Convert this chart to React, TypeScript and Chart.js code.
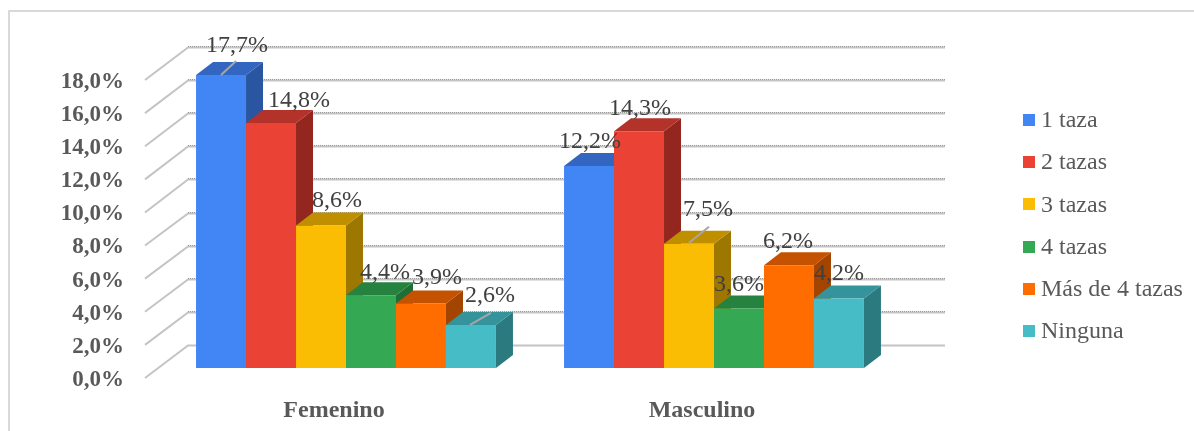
import React, { useEffect, useRef } from 'react';
import { Chart, registerables } from 'chart.js';

Chart.register(...registerables);

// ---------- data ----------
const categories = ['Femenino', 'Masculino'];
const seriesNames = ['1 taza', '2 tazas', '3 tazas', '4 tazas', 'Más de 4 tazas', 'Ninguna'];
const unaTaza = [17.7, 12.2];
const dosTazas = [14.8, 14.3];
const tresTazas = [8.6, 7.5];
const cuatroTazas = [4.4, 3.6];
const masDeCuatro = [3.9, 6.2];
const ninguna = [2.6, 4.2];
const seriesValues = [unaTaza, dosTazas, tresTazas, cuatroTazas, masDeCuatro, ninguna];
const yTickMin = 0;
const yTickMax = 18;
const yTickStep = 2;

// ---------- styles ----------
const FONT = "'Liberation Serif', 'Times New Roman', serif";
const frontColors = ['#4285F4', '#EA4335', '#FBBC04', '#34A853', '#FF6D01', '#46BDC6'];
const topColors = ['#3366C0', '#B3322A', '#BF8F00', '#25823F', '#C55200', '#34939B'];
const sideColors = ['#2A55A0', '#93271F', '#9E7700', '#1E6E35', '#A34500', '#2A7A80'];

// 3D geometry (pixels)
const BAR_DX = 17;
const BAR_DY = 13;
const BACK_DX = 26;
const BACK_DY = 23;
const FRONT_DX = 17;
const FRONT_DY = 10;
const WALL_EXTRA = 47;

// label nudges [series][category] (dx, dy) relative to default placement
const labelNudges = [
  [[16, -5], [1, 0]],
  [[28, 2], [1, 1]],
  [[16, -1], [19, -10]],
  [[14, 2], [0, 0]],
  [[16, -2], [-1, 0]],
  [[19, -5], [0, -1]],
];
const leaderLines = [
  [[0, 0, 15, -14], null],
  [null, null],
  [null, [0, -1, 20, -17]],
  [null, null],
  [null, null],
  [[-1, 0, 20, -12], null],
];

const fmt = (v: number) => v.toFixed(1).replace('.', ',') + '%';

const threeDPlugin = {
  id: 'threeD',
  beforeDatasetsDraw(chart: any) {
    const { ctx, chartArea: ca, scales } = chart;
    const y = scales.y;
    ctx.save();
    // walls: side diagonals + back gridlines
    for (let v = yTickMin; v <= yTickMax + 1e-9; v += yTickStep) {
      const py = y.getPixelForValue(v);
      const yb = Math.round(py - BACK_DY) + 0.5;
      ctx.lineWidth = 2;
      ctx.strokeStyle = '#c4c4c4';
      ctx.setLineDash([]);
      ctx.beginPath();
      ctx.moveTo(ca.left - FRONT_DX, py + FRONT_DY);
      ctx.lineTo(ca.left + BACK_DX, yb);
      ctx.lineTo(ca.right + WALL_EXTRA, yb);
      ctx.stroke();
      if (v > yTickMin) {
        ctx.lineWidth = 1;
        ctx.strokeStyle = '#9a9a9a';
        ctx.setLineDash([1, 1]);
        ctx.beginPath();
        ctx.moveTo(ca.left + BACK_DX, yb - 1);
        ctx.lineTo(ca.right + WALL_EXTRA, yb - 1);
        ctx.stroke();
        ctx.setLineDash([]);
      }
    }
    // side + top faces, left to right
    const n = chart.data.labels.length;
    for (let i = 0; i < n; i++) {
      chart.data.datasets.forEach((_ds: any, d: number) => {
        const el = chart.getDatasetMeta(d).data[i];
        if (!el) return;
        const left = el.x - el.width / 2;
        const right = el.x + el.width / 2;
        const top = el.y;
        const base = el.base;
        ctx.fillStyle = sideColors[d];
        ctx.beginPath();
        ctx.moveTo(right, top);
        ctx.lineTo(right + BAR_DX, top - BAR_DY);
        ctx.lineTo(right + BAR_DX, base - BAR_DY);
        ctx.lineTo(right, base);
        ctx.closePath();
        ctx.fill();
        ctx.fillStyle = topColors[d];
        ctx.beginPath();
        ctx.moveTo(left, top);
        ctx.lineTo(left + BAR_DX, top - BAR_DY);
        ctx.lineTo(right + BAR_DX, top - BAR_DY);
        ctx.lineTo(right, top);
        ctx.closePath();
        ctx.fill();
      });
    }
    ctx.restore();
  },
  afterDatasetsDraw(chart: any) {
    const { ctx } = chart;
    ctx.save();
    ctx.font = `24px ${FONT}`;
    ctx.fillStyle = '#404040';
    ctx.textAlign = 'center';
    ctx.textBaseline = 'middle';
    chart.data.datasets.forEach((ds: any, d: number) => {
      const meta = chart.getDatasetMeta(d);
      meta.data.forEach((el: any, i: number) => {
        const nudge = labelNudges[d][i];
        const ll = leaderLines[d][i];
        if (ll) {
          ctx.strokeStyle = '#a6a6a6';
          ctx.lineWidth = 2;
          ctx.beginPath();
          ctx.moveTo(el.x + ll[0], el.y + ll[1]);
          ctx.lineTo(el.x + ll[2], el.y + ll[3]);
          ctx.stroke();
        }
        ctx.fillText(fmt(ds.data[i]), el.x + nudge[0], el.y - 24 + nudge[1]);
      });
    });
    ctx.restore();
  },
  afterDraw(chart: any) {
    const { ctx, chartArea: ca } = chart;
    ctx.save();
    // legend
    const x0 = ca.right + 125;
    const y0 = ca.top + 50;
    const step = 42.2;
    ctx.font = `24px ${FONT}`;
    ctx.textBaseline = 'middle';
    ctx.textAlign = 'left';
    chart.data.datasets.forEach((ds: any, d: number) => {
      const cy = y0 + d * step;
      ctx.fillStyle = frontColors[d];
      ctx.fillRect(x0, Math.round(cy - 6), 12, 12);
      ctx.fillStyle = '#595959';
      ctx.fillText(ds.label, x0 + 18, cy + 1);
    });
    // outer border (top and left visible)
    ctx.strokeStyle = '#d9d9d9';
    ctx.lineWidth = 2;
    ctx.beginPath();
    ctx.moveTo(9, chart.height);
    ctx.lineTo(9, 11);
    ctx.lineTo(chart.width, 11);
    ctx.stroke();
    ctx.restore();
  },
};

export default function App() {
  const ref = useRef<HTMLCanvasElement | null>(null);
  useEffect(() => {
    document.body.style.margin = '0';
    const canvas = ref.current;
    if (!canvas) return;
    const chart = new Chart(canvas, {
      type: 'bar',
      data: {
        labels: categories,
        datasets: seriesNames.map((name, d) => ({
          label: name,
          data: seriesValues[d],
          backgroundColor: frontColors[d],
          borderWidth: 0,
          categoryPercentage: 0.815,
          barPercentage: 1,
        })),
      },
      options: {
        responsive: false,
        animation: false,
        layout: { padding: { top: 70, right: 296, left: 0, bottom: 0 } },
        plugins: {
          legend: { display: false },
          tooltip: { enabled: false },
        },
        scales: {
          x: {
            grid: { display: false },
            border: { display: false },
            ticks: {
              font: { family: FONT, size: 24, weight: 'bold' },
              color: '#595959',
              padding: 20,
              labelOffset: -12,
            },
            afterFit: (s: any) => {
              s.height = 63;
            },
          },
          y: {
            min: yTickMin,
            max: yTickMax,
            grid: { display: false, drawTicks: false },
            border: { display: false },
            ticks: {
              stepSize: yTickStep,
              callback: (v: any) => fmt(Number(v)),
              font: { family: FONT, size: 23, weight: 'bold' },
              color: '#595959',
              padding: 38,
              labelOffset: 12,
            },
            afterFit: (s: any) => {
              s.width = 162;
            },
          },
        },
      },
      plugins: [threeDPlugin],
    } as any);
    return () => chart.destroy();
  }, []);
  return (
    <div style={{ width: 1194, height: 431 }}>
      <canvas ref={ref} width={1194} height={431} style={{ display: 'block' }} />
    </div>
  );
}
